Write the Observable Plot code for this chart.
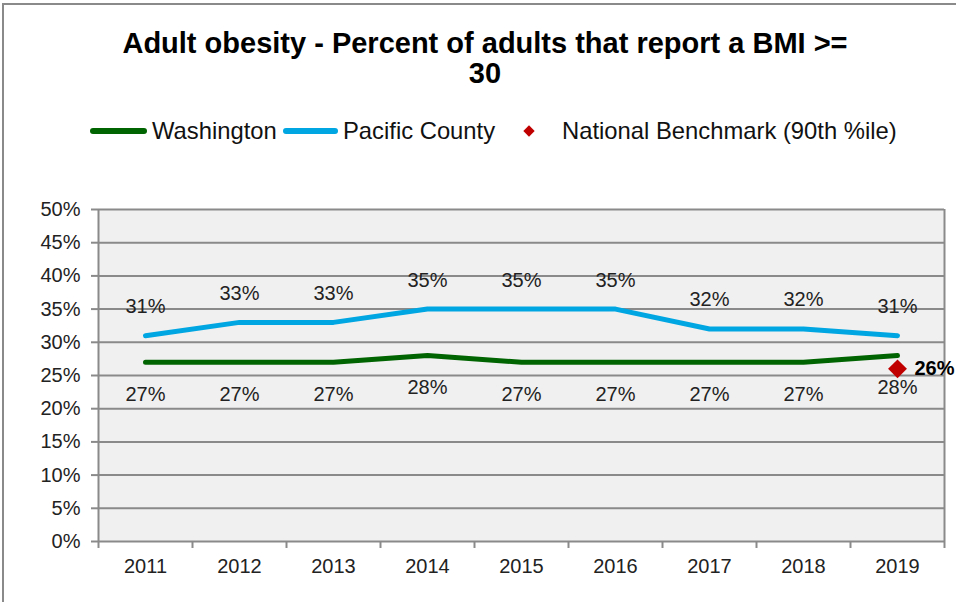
<!DOCTYPE html>
<html>
<head>
<meta charset="utf-8">
<script src="https://cdn.jsdelivr.net/npm/d3@7"></script>
<script src="https://cdn.jsdelivr.net/npm/@observablehq/plot@0.6"></script>
<style>
  body { margin: 0; background: #fff; font-family: "Liberation Sans", Arial, sans-serif; }
  #wrap { position: relative; width: 956px; height: 602px; overflow: hidden; background: #fff; }
  #frame { position: absolute; left: 2px; top: 3px; width: 1200px; height: 1200px; border-left: 2px solid #8a8a8a; border-top: 2px solid #8a8a8a; }
  #title { position: absolute; left: 0; top: 28px; width: 970px; text-align: center; font-weight: bold; font-size: 29px; line-height: 30px; color: #000; }
  .leg { position: absolute; font-size: 23.8px; line-height: 26px; top: 118px; color: #111; white-space: nowrap; }
  .legline { position: absolute; height: 6px; top: 128px; border-radius: 3px; }
  .legdia { position: absolute; width: 8px; height: 8px; left: 525px; top: 127px; background: #c00000; transform: rotate(45deg); }
  #chart { position: absolute; left: 0; top: 190px; }
</style>
</head>
<body>
<div id="wrap">
  <div id="frame"></div>
  <div id="title">Adult obesity - Percent of adults that report a BMI &gt;=<br>30</div>
  <div class="legline" style="left:90px;width:57px;background:#006400"></div>
  <div class="leg" style="left:152px">Washington</div>
  <div class="legline" style="left:283px;width:55px;background:#00a6e2"></div>
  <div class="leg" style="left:343px">Pacific County</div>
  <div class="legdia"></div>
  <div class="leg" style="left:562px">National Benchmark (90th %ile)</div>
  <div id="chart"></div>
</div>
<script>
const years = [2011, 2012, 2013, 2014, 2015, 2016, 2017, 2018, 2019];
const washington = [27, 27, 27, 28, 27, 27, 27, 27, 28];
const pacific = [31, 33, 33, 35, 35, 35, 32, 32, 31];
const benchmarkYear = 2019;
const benchmarkValue = 26;
const yTicks = [0, 5, 10, 15, 20, 25, 30, 35, 40, 45, 50];

const waData = years.map((y, i) => ({year: y, value: washington[i]}));
const paData = years.map((y, i) => ({year: y, value: pacific[i]}));
const bmData = [{year: benchmarkYear, value: benchmarkValue}];
const bounds = years.map(y => y - 0.5).concat([years[years.length - 1] + 0.5]);
const xMin = years[0] - 0.5, xMax = years[years.length - 1] + 0.5;

const chart = Plot.plot({
  width: 956,
  height: 412,
  marginLeft: 98,
  marginRight: 12,
  marginTop: 19,
  marginBottom: 61,
  style: {fontFamily: "Liberation Sans, Arial, sans-serif", color: "#222", background: "transparent", overflow: "visible"},
  x: {type: "linear", domain: [xMin, xMax], axis: null},
  y: {domain: [0, 50], axis: null},
  marks: [
    Plot.frame({fill: "#f0f0f0", stroke: null}),
    Plot.ruleY(yTicks, {stroke: "#8a8a8a", strokeWidth: 2}),
    Plot.ruleX([xMin, xMax], {stroke: "#8a8a8a", strokeWidth: 2}),
    Plot.ruleX(bounds, {y1: 0, y2: -1.05, stroke: "#8a8a8a", strokeWidth: 2}),
    Plot.axisY(yTicks, {label: null, tickSize: 7, tickPadding: 11, stroke: "#8a8a8a", strokeWidth: 2, fontSize: 20, tickFormat: d => d + "%", fill: "#222"}),
    Plot.axisX(years, {label: null, tickSize: 0, tickPadding: 17, fontSize: 20, tickFormat: d => String(d), fill: "#222"}),
    Plot.line(paData, {x: "year", y: "value", stroke: "#00a6e2", strokeWidth: 5, strokeLinecap: "round", strokeLinejoin: "round"}),
    Plot.line(waData, {x: "year", y: "value", stroke: "#006400", strokeWidth: 5, strokeLinecap: "round", strokeLinejoin: "round"}),
    Plot.text(paData, {x: "year", y: "value", text: d => d.value + "%", dy: -29, fontSize: 20, fill: "#222"}),
    Plot.text(waData, {x: "year", y: "value", text: d => d.value + "%", dy: 32, fontSize: 20, fill: "#222"}),
    Plot.dot(bmData, {x: "year", y: "value", symbol: "diamond2", r: 8.5, fill: "#c00000", stroke: null}),
    Plot.text(bmData, {x: "year", y: "value", text: d => d.value + "%", dx: 17, textAnchor: "start", fontSize: 20, fontWeight: "bold", fill: "#000"})
  ]
});
document.getElementById("chart").appendChild(chart);
</script>
</body>
</html>
